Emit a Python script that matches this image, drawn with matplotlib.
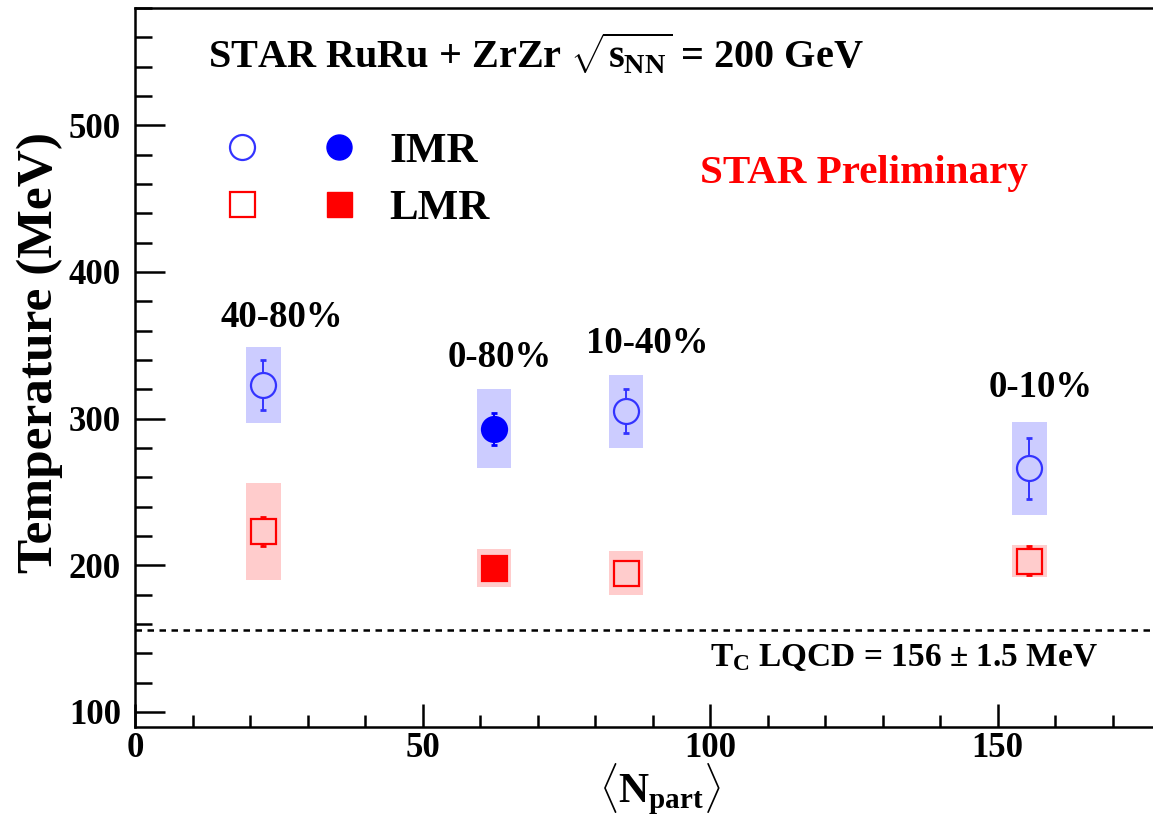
import numpy as np
import matplotlib.pyplot as plt
from matplotlib.ticker import MultipleLocator
from matplotlib.lines import Line2D
from matplotlib.legend_handler import HandlerTuple

plt.rcParams['font.family'] = ['Liberation Serif', 'DejaVu Serif']
plt.rcParams['font.weight'] = 'bold'
plt.rcParams['mathtext.fontset'] = 'custom'
plt.rcParams['mathtext.rm'] = 'Liberation Serif:bold'
plt.rcParams['mathtext.it'] = 'Liberation Serif:bold'
plt.rcParams['mathtext.bf'] = 'Liberation Serif:bold'

# data
centrality = ["40-80%", "0-80%", "10-40%", "0-10%"]
npart = [22.3, 62.4, 85.4, 155.5]
imr_T = [323, 293, 305, 266]
imr_stat = [17, 11, 15, 21]
imr_sys = [26, 27, 25, 32]
lmr_T = [223, 198, 195, 203]
lmr_stat = [10, 4, 4, 10]
lmr_sys = [33, 13, 15, 11]
filled = [False, True, False, False]
tc_lqcd = 156

# where the centrality labels sit (data coords)
label_pos = [(25.6, 369), (63.5, 341.6), (89, 351), (157.4, 321)]

blue = '#0000ff'
blue_open = '#3333ff'
red = '#ff0000'
blue_box = '#ccccff'
red_box = '#ffcccc'
msize = 18

fig = plt.figure(figsize=(11.53, 8.17), dpi=100)
ax = fig.add_axes([135/1153, 1 - 726.5/817, 1 - 135/1153, (726.5 - 8)/817])

# systematic boxes
box_w = 6
ax.bar(npart, [2*s for s in imr_sys], bottom=[t - s for t, s in zip(imr_T, imr_sys)],
       width=box_w, color=blue_box, edgecolor='none', zorder=1)
ax.bar(npart, [2*s for s in lmr_sys], bottom=[t - s for t, s in zip(lmr_T, lmr_sys)],
       width=box_w, color=red_box, edgecolor='none', zorder=1)

# stat errors + markers (open markers filled with the box colour so the bar
# does not show through, like ROOT)
for x, t, e, f in zip(npart, imr_T, imr_stat, filled):
    c = blue if f else blue_open
    ax.errorbar(x, t, yerr=e, fmt='none', ecolor=c, elinewidth=1.4,
                capsize=2.5, capthick=2, zorder=2)
    ax.plot(x, t, 'o', ms=msize, mec=c, mew=1.6,
            mfc=blue if f else blue_box, zorder=3)
for x, t, e, f in zip(npart, lmr_T, lmr_stat, filled):
    ax.errorbar(x, t, yerr=e, fmt='none', ecolor=red, elinewidth=1.4,
                capsize=2.5, capthick=2, zorder=2)
    ax.plot(x, t, 's', ms=msize, mec=red, mew=1.6,
            mfc=red if f else red_box, zorder=3)

for lab, (lx, ly) in zip(centrality, label_pos):
    ax.text(lx, ly, lab, ha='center', va='center', fontsize=26.5, fontweight='bold')

# LQCD Tc line
ax.axhline(tc_lqcd, color='black', lw=1.8, ls=(0, (2.6, 2.2)), zorder=1)
ax.text(100, 137, r'T$_{\mathrm{C}}$ LQCD = 156 $\pm$ 1.5 MeV', ha='left', va='center',
        fontsize=24, fontweight='bold')

ax.text(12.7, 548, r'STAR RuRu + ZrZr $\sqrt{s_{\mathrm{NN}}}$ = 200 GeV', ha='left',
        va='center', fontsize=29, fontweight='bold')
ax.text(98.3, 467, 'STAR Preliminary', color=red, ha='left', va='center',
        fontsize=29.5, fontweight='bold')

# legend: open + filled marker per row
h_imr = (Line2D([], [], ls='none', marker='o', ms=msize, mec=blue_open, mfc='none', mew=1.6),
         Line2D([], [], ls='none', marker='o', ms=msize, mec=blue, mfc=blue))
h_lmr = (Line2D([], [], ls='none', marker='s', ms=msize, mec=red, mfc='none', mew=1.6),
         Line2D([], [], ls='none', marker='s', ms=msize, mec=red, mfc=red))
ax.legend([h_imr, h_lmr], ['IMR', 'LMR'], handler_map={tuple: HandlerTuple(ndivide=None, pad=0)},
          loc='center left', bbox_to_anchor=(0.0575, 0.7606), frameon=False,
          fontsize=31, handlelength=4.5, handletextpad=0.05, labelspacing=0.43,
          borderpad=0, borderaxespad=0)

ax.set_xlim(0, 177)
ax.set_ylim(90, 580)
ax.xaxis.set_major_locator(MultipleLocator(50))
ax.xaxis.set_minor_locator(MultipleLocator(10))
ax.yaxis.set_major_locator(MultipleLocator(100))
ax.yaxis.set_minor_locator(MultipleLocator(20))

ax.spines['right'].set_visible(False)
for s in ['left', 'bottom', 'top']:
    ax.spines[s].set_linewidth(1.8)
ax.tick_params(which='both', direction='in', width=1.8, labelsize=25)
ax.tick_params(axis='y', which='major', length=21.6, pad=10)
ax.tick_params(axis='y', which='minor', length=12.2)
ax.tick_params(axis='x', which='major', length=16.3, pad=4)
ax.tick_params(axis='x', which='minor', length=8.4)

ax.set_ylabel('Temperature (MeV)', fontsize=37, fontweight='bold', va='center')
ax.yaxis.set_label_coords(-0.093, 0.521)
ax.set_xlabel(r'$\langle N_{\mathrm{part}} \rangle$', fontsize=30, va='center')
ax.xaxis.set_label_coords(0.516, -0.088)

fig.savefig('out.png', dpi=100)
